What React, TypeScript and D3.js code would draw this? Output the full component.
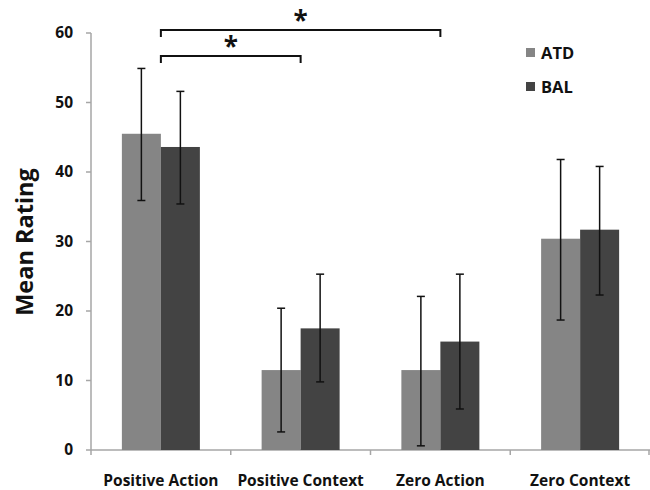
import React from "react";
import * as d3 from "d3";

const categories = ["Positive Action", "Positive Context", "Zero Action", "Zero Context"];
const seriesNames = ["ATD", "BAL"];
const atdMeans = [45.5, 11.5, 11.5, 30.4];
const balMeans = [43.6, 17.5, 15.6, 31.7];
const atdErrLow = [35.9, 2.6, 0.6, 18.7];
const atdErrHigh = [54.9, 20.4, 22.1, 41.8];
const balErrLow = [35.4, 9.8, 5.9, 22.3];
const balErrHigh = [51.6, 25.3, 25.3, 40.8];
const yTicks = [0, 10, 20, 30, 40, 50, 60];
const colors = ["#858585", "#434343"];
// significance brackets: [fromCategory, toCategory, level]
const brackets = [
  { from: 0, to: 2, level: 1 },
  { from: 0, to: 1, level: 0 },
];

const W = 650;
const H = 490;
const M = { left: 91, right: 650, top: 33, bottom: 450 };
const FONT = "'Open Sans', 'DejaVu Sans', sans-serif";

export default function App() {
  const x = d3.scaleBand<string>().domain(categories).range([M.left, M.right]).paddingInner(0).paddingOuter(0);
  const y = d3.scaleLinear().domain([0, 60]).range([M.bottom, M.top]);
  const bw = 39;
  const series = [
    { name: seriesNames[0], means: atdMeans, lo: atdErrLow, hi: atdErrHigh, color: colors[0] },
    { name: seriesNames[1], means: balMeans, lo: balErrLow, hi: balErrHigh, color: colors[1] },
  ];
  const center = (c: string) => (x(c) as number) + x.bandwidth() / 2;
  const axisColor = "#a6a6a6";

  return (
    <svg width={W} height={H} style={{ position: "absolute", left: 0, top: 0, background: "#fff" }} fontFamily={FONT}>
      {/* y axis */}
      <line x1={M.left} x2={M.left} y1={y(60)} y2={y(0)} stroke={axisColor} strokeWidth={1.5} />
      {yTicks.map((t) => (
        <g key={t}>
          <line x1={M.left - 5} x2={M.left} y1={y(t)} y2={y(t)} stroke={axisColor} strokeWidth={1.5} />
          <text x={73} y={y(t)} dy="0.35em" textAnchor="end" fontSize={15.5} fontWeight="bold" fill="#111">
            {t}
          </text>
        </g>
      ))}
      {/* x axis */}
      <line x1={M.left} x2={M.right} y1={y(0)} y2={y(0)} stroke={axisColor} strokeWidth={1.5} />
      {[...categories.map((c) => x(c) as number), M.right - 1].map((px, i) => (
        <line key={i} x1={px} x2={px} y1={y(0)} y2={y(0) + 5} stroke={axisColor} strokeWidth={1.5} />
      ))}
      {categories.map((c) => (
        <text key={c} x={center(c)} y={486} textAnchor="middle" fontSize={15.5} fontWeight="bold" fill="#111">
          {c}
        </text>
      ))}
      {/* bars */}
      {series.map((s, si) =>
        categories.map((c, ci) => {
          const x0 = center(c) - bw + si * bw;
          return (
            <rect key={s.name + c} x={x0} y={y(s.means[ci])} width={bw} height={y(0) - y(s.means[ci])} fill={s.color} />
          );
        })
      )}
      {/* error bars */}
      {series.map((s, si) =>
        categories.map((c, ci) => {
          const cx = center(c) - bw / 2 + si * bw;
          return (
            <g key={"e" + s.name + c} stroke="#111" strokeWidth={1.5}>
              <line x1={cx} x2={cx} y1={y(s.hi[ci])} y2={y(s.lo[ci])} />
              <line x1={cx - 4} x2={cx + 4} y1={y(s.hi[ci])} y2={y(s.hi[ci])} />
              <line x1={cx - 4} x2={cx + 4} y1={y(s.lo[ci])} y2={y(s.lo[ci])} />
            </g>
          );
        })
      )}
      {/* brackets */}
      {brackets.map((b, i) => {
        const x1 = center(categories[b.from]);
        const x2 = center(categories[b.to]);
        const by = b.level === 1 ? 30 : 56;
        return (
          <g key={i}>
            <path d={`M${x1},${by + 7}V${by}H${x2}V${by + 7}`} fill="none" stroke="#111" strokeWidth={2} />
            <text x={(x1 + x2) / 2} y={by} textAnchor="middle" fontSize={26} fontWeight="bold" fill="#111">
              *
            </text>
          </g>
        );
      })}
      {/* legend */}
      {series.map((s, i) => (
        <g key={"l" + s.name}>
          <rect x={526} y={48 + i * 34} width={9} height={9} fill={s.color} />
          <text x={541} y={58.5 + i * 34} fontSize={16.5} fontWeight="bold" fill="#111">
            {s.name}
          </text>
        </g>
      ))}
      {/* y label */}
      <text
        transform={`translate(33,242) rotate(-90)`}
        textAnchor="middle"
        fontSize={23.5}
        fontWeight="bold"
        fill="#111"
      >
        Mean Rating
      </text>
    </svg>
  );
}
